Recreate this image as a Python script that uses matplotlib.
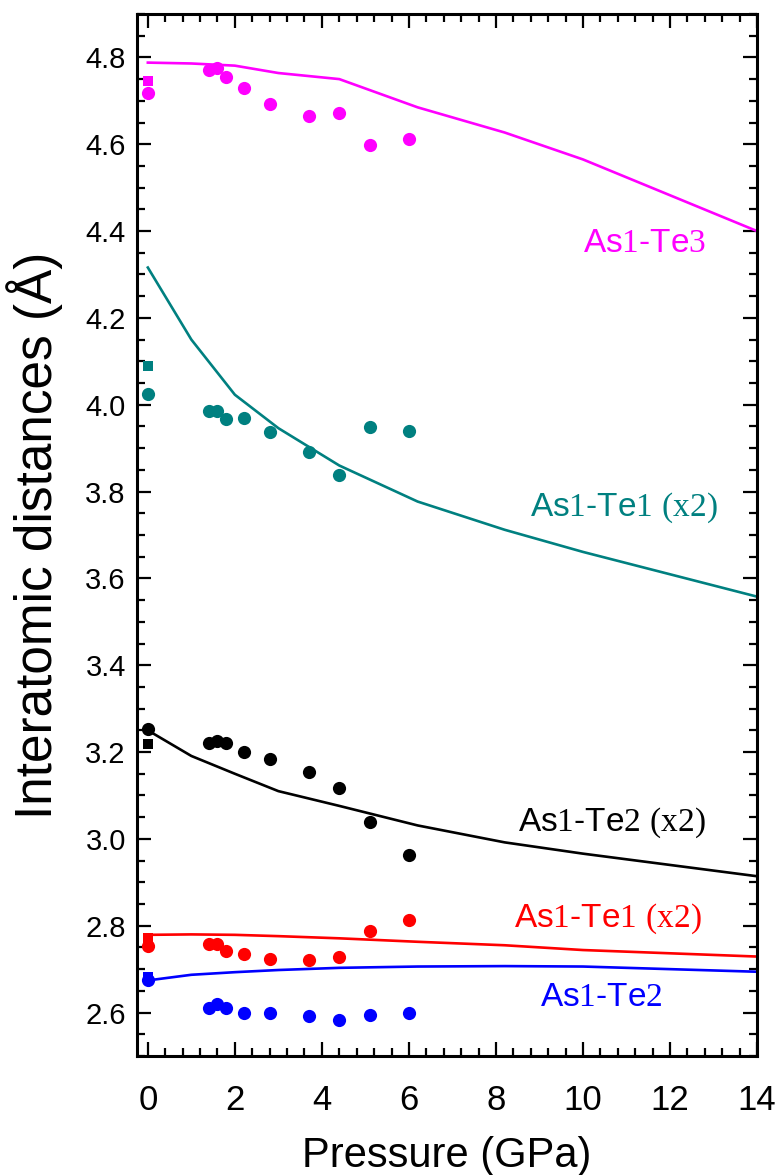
import numpy as np
from matplotlib import pyplot as plt
from matplotlib.ticker import MultipleLocator

plt.rcParams['font.family'] = ['Liberation Sans', 'DejaVu Sans']
plt.rcParams['mathtext.fontset'] = 'custom'
plt.rcParams['mathtext.rm'] = 'Liberation Serif'

# experimental pressures (GPa)
p_exp = [1.4, 1.6, 1.8, 2.2, 2.8, 3.7, 4.4, 5.1, 6.0]

# experimental distances (circles), ambient values separately
te3_exp = [4.771, 4.775, 4.755, 4.729, 4.692, 4.664, 4.672, 4.598, 4.611]
te1b_exp = [3.985, 3.985, 3.968, 3.970, 3.938, 3.891, 3.839, 3.949, 3.940]
te2b_exp = [3.221, 3.226, 3.220, 3.199, 3.183, 3.154, 3.117, 3.038, 2.962]
te1a_exp = [2.758, 2.758, 2.741, 2.735, 2.723, 2.720, 2.729, 2.788, 2.814]
te2a_exp = [2.610, 2.619, 2.611, 2.600, 2.600, 2.591, 2.583, 2.595, 2.600]

# ambient pressure: circle and square values
amb_circle = [4.719, 4.025, 3.252, 2.753, 2.674]
amb_square = [4.745, 4.089, 3.218, 2.772, 2.681]

# calculated curves
p_calc = [0, 1, 2, 3, 4.4, 6.2, 8.2, 10, 14]
te3_calc = [4.788, 4.786, 4.781, 4.764, 4.750, 4.685, 4.627, 4.565, 4.400]
te1b_calc = [4.316, 4.150, 4.023, 3.946, 3.860, 3.777, 3.712, 3.661, 3.558]
te2b_calc = [3.250, 3.191, 3.150, 3.110, 3.076, 3.031, 2.992, 2.966, 2.914]
te1a_calc = [2.779, 2.780, 2.779, 2.776, 2.771, 2.763, 2.755, 2.744, 2.729]
te2a_calc = [2.674, 2.687, 2.693, 2.698, 2.703, 2.706, 2.707, 2.706, 2.694]

colors = ['#FF00FF', '#008080', '#000000', '#FF0000', '#0000FF']
labels = [r'As$\mathrm{1}$-Te$\mathrm{3}$',
          r'As$\mathrm{1}$-Te$\mathrm{1}$ $\mathrm{(x2)}$',
          r'As$\mathrm{1}$-Te$\mathrm{2}$ $\mathrm{(x2)}$',
          r'As$\mathrm{1}$-Te$\mathrm{1}$ $\mathrm{(x2)}$',
          r'As$\mathrm{1}$-Te$\mathrm{2}$']
label_pos = [(11.42, 4.372), (10.94, 3.763), (10.66, 3.038), (10.57, 2.817), (10.43, 2.635)]

exp_sets = [te3_exp, te1b_exp, te2b_exp, te1a_exp, te2a_exp]
calc_sets = [te3_calc, te1b_calc, te2b_calc, te1a_calc, te2a_calc]

fig = plt.figure(figsize=(7.8, 11.75), dpi=100)
ax = fig.add_axes([0.1756, 0.1013, 0.7949, 0.8868])

for i in range(5):
    c = colors[i]
    ax.plot(p_calc, calc_sets[i], color=c, lw=1.9, zorder=2)
    ax.plot(p_exp, exp_sets[i], 'o', color=c, ms=9.5, mew=0, zorder=3)
    ax.plot([0], [amb_square[i]], 's', color=c, ms=7.5, mew=0, zorder=3)
    ax.plot([0], [amb_circle[i]], 'o', color=c, ms=9.5, mew=0, zorder=3)
    ax.text(label_pos[i][0], label_pos[i][1], labels[i], color=c, fontsize=24,
            ha='center', va='center')

ax.set_xlim(-0.25, 14)
ax.set_ylim(2.5, 4.9)
ax.xaxis.set_major_locator(MultipleLocator(2))
ax.xaxis.set_minor_locator(MultipleLocator(0.4))
ax.yaxis.set_major_locator(MultipleLocator(0.2))
ax.yaxis.set_minor_locator(MultipleLocator(0.05))
ax.yaxis.set_major_formatter(plt.FormatStrFormatter('%.1f'))

for s in ax.spines.values():
    s.set_linewidth(2.2)
ax.tick_params(which='both', direction='in', top=True, right=True, width=1.6)
ax.tick_params(which='major', length=10)
ax.tick_params(which='minor', length=6)
ax.tick_params(axis='y', labelsize=21, pad=8)
ax.tick_params(axis='x', labelsize=25, pad=20)

ax.set_xlabel('Pressure (GPa)', fontsize=30, labelpad=14)
ax.set_ylabel('Interatomic distances (Å)', fontsize=37, labelpad=16)

fig.savefig('out.png', dpi=100)
